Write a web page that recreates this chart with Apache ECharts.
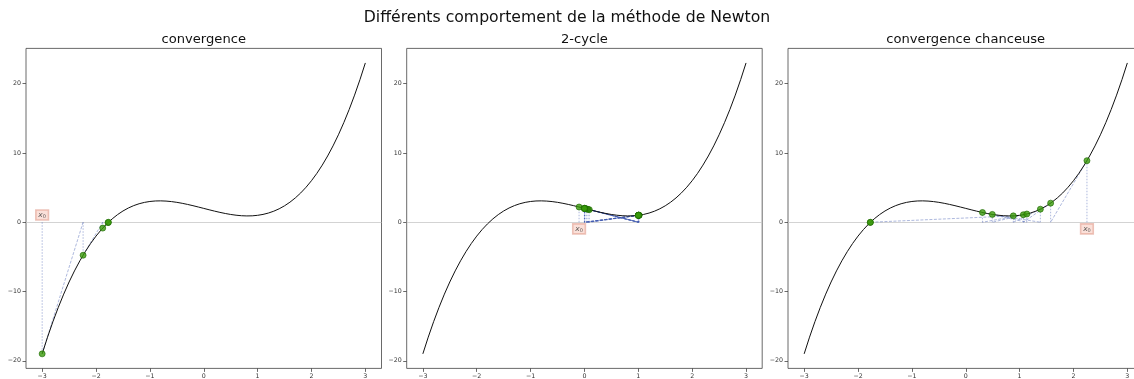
<!DOCTYPE html>
<html><head><meta charset="utf-8">
<script src="https://cdn.jsdelivr.net/npm/echarts@6/dist/echarts.min.js"></script>
<style>html,body{margin:0;padding:0;background:#fff}#c{width:1134px;height:379px}</style>
</head><body><div id="c"></div>
<script>
// ---- data ----
const suptitle = 'Différents comportement de la méthode de Newton';
const panelTitles = ['convergence', '2-cycle', 'convergence chanceuse'];
const xTicks = [-3, -2, -1, 0, 1, 2, 3];
const yTicks = [-20, -10, 0, 10, 20];
// f(x) = x^3 - 2x + 2 sampled every 0.1
const curveX = [-3, -2.9, -2.8, -2.7, -2.6, -2.5, -2.4, -2.3, -2.2, -2.1, -2, -1.9, -1.8, -1.7, -1.6,
  -1.5, -1.4, -1.3, -1.2, -1.1, -1, -0.9, -0.8, -0.7, -0.6, -0.5, -0.4, -0.3, -0.2, -0.1, 0,
  0.1, 0.2, 0.3, 0.4, 0.5, 0.6, 0.7, 0.8, 0.9, 1, 1.1, 1.2, 1.3, 1.4, 1.5, 1.6, 1.7, 1.8, 1.9, 2,
  2.1, 2.2, 2.3, 2.4, 2.5, 2.6, 2.7, 2.8, 2.9, 3];
const curveY = [-19, -16.589, -14.352, -12.283, -10.376, -8.625, -7.024, -5.567, -4.248, -3.061, -2,
  -1.059, -0.232, 0.487, 1.104, 1.625, 2.056, 2.403, 2.672, 2.869, 3, 3.071, 3.088, 3.057, 2.984,
  2.875, 2.736, 2.573, 2.392, 2.199, 2, 1.801, 1.608, 1.427, 1.264, 1.125, 1.016, 0.943, 0.912,
  0.929, 1, 1.131, 1.328, 1.597, 1.944, 2.375, 2.896, 3.513, 4.232, 5.059, 6, 7.061, 8.248, 9.567,
  11.024, 12.625, 14.376, 16.283, 18.352, 20.589, 23];
// Newton iterates (x_n, f(x_n)) per panel
const iterX1 = [-3, -2.24, -1.8754, -1.7766, -1.7693];
const iterY1 = [-19, -4.759, -0.8451, -0.0543, -0.0003];
const iterX2 = [-0.1, 1.0162, 0.0902, 1.0116, 0.0658, 1.0063, 0.0364, 1.0020, 0.0116, 1.0002,
  0.0012, 1.0, 0.0, 1.0, 0.0, 1.0, 0.0];
const iterY2 = [2.199, 1.017, 1.8204, 1.012, 1.8686, 1.0064, 1.9272, 1.0020, 1.9768, 1.0002,
  1.9976, 1.0, 2.0, 1.0, 2.0, 1.0, 2.0];
const iterX3 = [2.25, 1.5758, 1.069, 0.3103, 1.1339, 0.4931, 1.3854, 0.8829, -1.7740, -1.7693];
const iterY3 = [8.891, 2.7614, 1.0836, 1.4093, 1.1901, 1.1337, 1.8883, 0.9224, -0.035, 0.0];

// ---- chart ----
const iters = [[iterX1, iterY1], [iterX2, iterY2], [iterX3, iterY3]];
const lefts = [26, 406.7, 788];
const W = 355.5, TOP = 48.4, H = 320;
const fmt = v => String(v).replace('-', '\u2212');
const lineBlue = 'rgba(60,85,175,0.42)';

const grid = lefts.map(l => ({left: l, top: TOP, width: W, height: H, show: true,
  containLabel: false, outerBoundsMode: 'none',
  borderColor: '#444', borderWidth: 0.8, backgroundColor: 'transparent'}));
const xAxis = lefts.map((l, i) => ({
  type: 'value', gridIndex: i, min: -3.3, max: 3.3,
  splitLine: {show: false}, axisLine: {show: false, onZero: false},
  axisTick: {show: true, customValues: xTicks, length: 3.5, lineStyle: {color: '#444', width: 0.8}},
  axisLabel: {customValues: xTicks, fontSize: 6.3, color: '#333', margin: 5, formatter: fmt,
              fontFamily: 'DejaVu Sans'}
}));
const yAxis = lefts.map((l, i) => ({
  type: 'value', gridIndex: i, min: -21.1, max: 25.1,
  splitLine: {show: false}, axisLine: {show: false, onZero: false},
  axisTick: {show: true, customValues: yTicks, length: 3.5, lineStyle: {color: '#444', width: 0.8}},
  axisLabel: {customValues: yTicks, fontSize: 6.3, color: '#333', margin: 5, formatter: fmt,
              fontFamily: 'DejaVu Sans'}
}));

const series = [];
iters.forEach(([xs, ys], p) => {
  series.push({
    type: 'line', xAxisIndex: p, yAxisIndex: p, smooth: false, showSymbol: false, silent: true,
    data: curveX.map((x, k) => [x, curveY[k]]),
    lineStyle: {color: '#111', width: 1}, z: 3,
    markLine: {silent: true, symbol: 'none', label: {show: false},
      lineStyle: {color: '#c8c8c8', width: 0.8, type: 'solid'}, data: [{yAxis: 0}], z: 1}
  });
  xs.forEach((x, k) => {
    series.push({type: 'line', xAxisIndex: p, yAxisIndex: p, showSymbol: false, silent: true, z: 2,
      data: [[x, 0], [x, ys[k]]], lineStyle: {color: lineBlue, width: 1, type: [1.5, 1.5]}});
    if (k + 1 < xs.length) {
      series.push({type: 'line', xAxisIndex: p, yAxisIndex: p, showSymbol: false, silent: true, z: 2,
        data: [[x, ys[k]], [xs[k + 1], 0]], lineStyle: {color: lineBlue, width: 1, type: [3, 1.5]}});
    }
  });
  series.push({type: 'scatter', xAxisIndex: p, yAxisIndex: p, symbolSize: 6, z: 5,
    data: xs.map((x, k) => [x, ys[k]]),
    itemStyle: {color: '#3a9a0a', borderColor: '#1d6a00', borderWidth: 0.8}});
  const off = ys[0] < 0 ? 1.05 : -0.95;
  series.push({type: 'scatter', xAxisIndex: p, yAxisIndex: p, symbolSize: 0, z: 6,
    data: [[xs[0], off]],
    label: {show: true, position: 'inside', formatter: '{i|x}{s|0}',
      backgroundColor: 'rgba(240,170,150,0.45)', borderColor: 'rgba(215,130,110,0.6)', borderWidth: 0.8,
      padding: [1.5, 2.5, 0.5, 2.5],
      rich: {i: {fontSize: 7.5, fontStyle: 'italic', color: '#333', fontFamily: 'DejaVu Sans'},
             s: {fontSize: 5, color: '#333', fontFamily: 'DejaVu Sans', padding: [3, 0, 0, 0]}}}});
});

const graphic = [
  {type: 'text', x: 567, y: 18, style: {text: suptitle, font: '15.7px "DejaVu Sans"', fill: '#111',
    textAlign: 'center', textVerticalAlign: 'middle'}},
  ...panelTitles.map((t, i) => ({type: 'text', x: lefts[i] + W / 2, y: 40,
    style: {text: t, font: '13.1px "DejaVu Sans"', fill: '#111', textAlign: 'center', textVerticalAlign: 'middle'}}))
];

const chart = echarts.init(document.getElementById('c'), null, {renderer: 'canvas'});
chart.setOption({animation: false, backgroundColor: '#fff', grid, xAxis, yAxis, series, graphic});
</script></body></html>
